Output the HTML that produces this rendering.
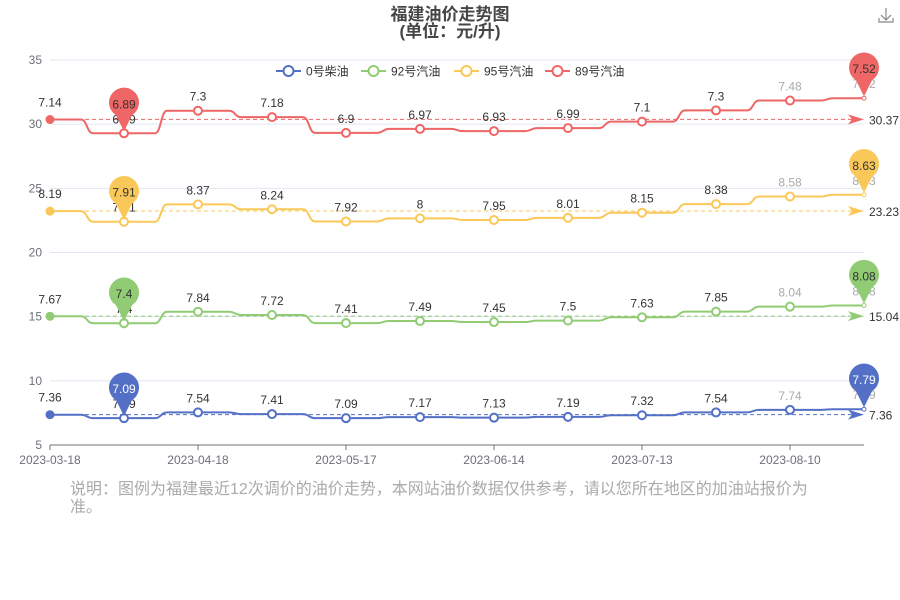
<!DOCTYPE html>
<html><head><meta charset="utf-8"><style>
body{margin:0;background:#fff;}
svg{display:block;font-family:"Liberation Sans","Noto Sans CJK SC",sans-serif;}
</style></head><body>
<svg id="c" width="900" height="600" viewBox="0 0 900 600" xmlns="http://www.w3.org/2000/svg">
<text x="450" y="20" text-anchor="middle" font-size="17" font-weight="bold" fill="#464646">福建油价走势图</text>
<text x="450" y="37" text-anchor="middle" font-size="17" font-weight="bold" fill="#464646">(单位：元/升)</text>
<g stroke="#888" fill="none" stroke-width="1.2">
<path d="M886 8 V20 M881 15 L886 20 L891 15 M879 18 V22 H893 V18"/></g>
<g id="grid"></g><g id="axes"></g><g id="series"></g><g id="legend"></g>
<text x="70" y="494" font-size="16" fill="#aaa">说明：图例为福建最近12次调价的油价走势，本网站油价数据仅供参考，请以您所在地区的加油站报价为</text>
<text x="70" y="512" font-size="16" fill="#aaa">准。</text>
</svg>
<script>
const categories=["2023-03-18","2023-03-31","2023-04-18","2023-05-03","2023-05-17","2023-05-31","2023-06-14","2023-06-28","2023-07-13","2023-07-27","2023-08-10","2023-08-24"];
const seriesNames=["0号柴油","92号汽油","95号汽油","89号汽油"];
const diesel=[7.36,7.09,7.54,7.41,7.09,7.17,7.13,7.19,7.32,7.54,7.74,7.79];
const gas92=[7.67,7.4,7.84,7.72,7.41,7.49,7.45,7.5,7.63,7.85,8.04,8.08];
const gas95=[8.19,7.91,8.37,8.24,7.92,8,7.95,8.01,8.15,8.38,8.58,8.63];
const gas89=[7.14,6.89,7.30,7.18,6.90,6.97,6.93,6.99,7.10,7.30,7.48,7.52];
const yTicks=[5,10,15,20,25,30,35];
const colors=["#5470c6","#91cc75","#fac858","#ee6666"];
const NS="http://www.w3.org/2000/svg";
const X0=50,X1=864,Y0=445,Y1=60,YMIN=5,YMAX=35;
const xs=i=>X0+(X1-X0)*i/(categories.length-1);
const ys=v=>Y0-(v-YMIN)/(YMAX-YMIN)*(Y0-Y1);
function mk(tag,attrs,parent,txt){const e=document.createElementNS(NS,tag);for(const k in attrs)e.setAttribute(k,attrs[k]);if(txt!==undefined)e.textContent=txt;parent.appendChild(e);return e;}
const grid=document.getElementById('grid'),axes=document.getElementById('axes'),ser=document.getElementById('series'),leg=document.getElementById('legend');
yTicks.forEach(t=>{
 if(t!==YMIN){const l=mk('line',{x1:X0,x2:X1,y1:ys(t),y2:ys(t),stroke:'#e0e6f1'},grid);
 
 }
 const tx=mk('text',{x:42,y:ys(t)+4,'text-anchor':'end','font-size':12,fill:'#6e7079'},axes,String(t));
 
 
});
const ax=mk('line',{x1:X0,x2:X1,y1:Y0,y2:Y0,stroke:'#6e7079'},axes);


categories.forEach((c,i)=>{if(i%2)return;
 mk('line',{x1:xs(i),x2:xs(i),y1:Y0,y2:Y0+5,stroke:'#6e7079'},axes);
 const t=mk('text',{x:xs(i),y:Y0+19,'text-anchor':'middle','font-size':12,fill:'#6e7079'},axes,c);
 
 
});
const raw=[diesel,gas92,gas95,gas89];
let cum=diesel.map(()=>0);
raw.forEach((vals,si)=>{
 const col=colors[si];
 cum=cum.map((c,i)=>c+vals[i]);
 const stacked=cum.slice();
 const g=mk('g',{},ser);
 
 
 // step-middle smoothed path
 let d='M'+xs(0)+' '+ys(stacked[0]);
 for(let i=1;i<stacked.length;i++){
  const xm=(xs(i-1)+xs(i))/2,ya=ys(stacked[i-1]),yb=ys(stacked[i]);
  d+=` L${xm-6} ${ya} C${xm} ${ya} ${xm} ${yb} ${xm+6} ${yb} L${xs(i)} ${yb}`;
 }
 const p=mk('path',{d:d,fill:'none',stroke:col,'stroke-width':2},g);
 
 
 // average markline
 const avg=stacked.reduce((a,b)=>a+b,0)/stacked.length;
 const ya=ys(avg);
 const ml=mk('line',{x1:X0,x2:X1-10,y1:ya,y2:ya,stroke:col,'stroke-dasharray':'4 3'},g);
 
 
 mk('path',{d:`M${X1-16} ${ya-5} L${X1} ${ya} L${X1-16} ${ya+5} L${X1-12} ${ya}Z`,fill:col},g);
 const al=mk('text',{x:X1+5,y:ya+5,'font-size':12,fill:'#333'},g,avg.toFixed(2));
 
 
 stacked.forEach((v,i)=>{
  const x=xs(i),y=ys(v);
  let c;
  if(i===0)c=mk('circle',{cx:x,cy:y,r:4.5,fill:col},g);
  else if(i===stacked.length-1)c=mk('circle',{cx:x,cy:y,r:2,fill:'#fff',stroke:col},g);
  else c=mk('circle',{cx:x,cy:y,r:4,fill:'#fff',stroke:col,'stroke-width':2},g);
  
  
  const lab=mk('text',{x:x,y:y-(i===0?13:10),'text-anchor':'middle','font-size':12,fill:i>=10?'#aaa':'#333'},g,String(vals[i]));
  
  
 });
 // pins for min (index of min) and max
 let mi=0,ma=0;vals.forEach((v,i)=>{if(v<vals[mi])mi=i;if(v>=vals[ma])ma=i;});
 [mi,ma].forEach(i=>{
  const x=xs(i),y=ys(stacked[i]);
  const pin=mk('path',{d:`M${x} ${y-2} L${x-8} ${y-18} A15 15 0 1 1 ${x+8} ${y-18} Z`,fill:col},g);
  
  
  const t=mk('text',{x:x,y:y-25,'text-anchor':'middle','font-size':12,fill:si===0?'#fff':'#333'},g,String(vals[i]));
  
  
 });
});
// legend
const lx=[276,361,454,545];
seriesNames.forEach((n,i)=>{
 const g=mk('g',{},leg);
 
 
 mk('line',{x1:lx[i],x2:lx[i]+25,y1:71,y2:71,stroke:colors[i],'stroke-width':2},g);
 mk('circle',{cx:lx[i]+12.5,cy:71,r:5,fill:'#fff',stroke:colors[i],'stroke-width':2},g);
 mk('text',{x:lx[i]+30,y:75.5,'font-size':12,fill:'#333'},g,n);
});
</script>
</body></html>
